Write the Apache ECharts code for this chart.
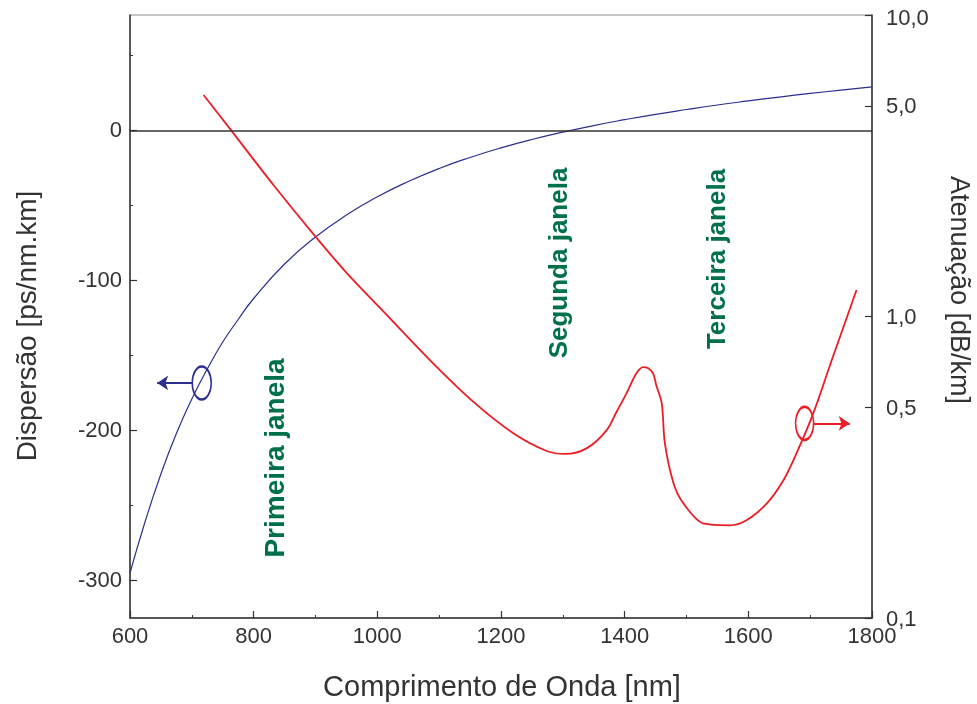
<!DOCTYPE html>
<html>
<head>
<meta charset="utf-8">
<script src="https://cdn.jsdelivr.net/npm/echarts@6/dist/echarts.min.js"></script>
<style>
  html, body { margin: 0; padding: 0; background: #fff; }
  #chart { width: 977px; height: 704px; }
</style>
</head>
<body>
<div id="chart"></div>
<script>
// Chromatic dispersion of standard fibre (ps/nm.km) versus wavelength
const dispWavelengths = [600, 625, 650, 675, 700, 725, 750, 775, 800, 850, 900, 950, 1000, 1050,
  1100, 1150, 1200, 1250, 1300, 1350, 1400, 1450, 1500, 1550, 1600, 1650, 1700, 1750, 1800];
const dispersion = [-295, -260, -229, -202, -179, -159, -141, -126, -112, -89, -71, -56.4, -44.2, -34,
  -25.3, -18, -11.6, -6, -1.1, 3.3, 7.2, 10.8, 14, 17, 19.7, 22.3, 24.7, 26.9, 29.1];

// Attenuation (dB/km, log scale) versus wavelength
const attWavelengths = [719, 763, 832, 899, 951, 1004, 1085, 1155, 1220, 1274, 1304, 1339, 1371,
  1387, 1403, 1419, 1430, 1438, 1446, 1451, 1460, 1465, 1479, 1495, 1527, 1570, 1597, 1630,
  1657, 1678, 1705, 1735, 1775];
const attenuation = [5.43, 4.16, 2.73, 1.85, 1.39, 1.07, 0.717, 0.522, 0.410, 0.358, 0.350, 0.366,
  0.420, 0.483, 0.556, 0.648, 0.679, 0.674, 0.648, 0.593, 0.515, 0.380, 0.280, 0.240, 0.206,
  0.203, 0.211, 0.240, 0.287, 0.352, 0.477, 0.717, 1.224];

// Axis tick values
const dispTicks = [-300, -200, -100, 0];
const dispMinorTicks = [-250, -150, -50, 50];
const attTicks = [0.1, 0.5, 1, 5, 10];

// Markers pointing each curve to its axis: [wavelength, value]
const dispMarker = [716, -168.3];
const dispArrow = [[702, -168.3], [644, -168.3]];
const attMarker = [1691, 0.442];
const attArrow = [[1705, 0.442], [1764, 0.442]];

// Spectral window labels
const windows = ['Primeira janela', 'Segunda janela', 'Terceira janela'];

const FONT = '"Liberation Sans", Arial, sans-serif';
const BLUE = '#2b2f8f';
const RED = '#ee1c24';
const GREEN = '#00704a';
const AXIS = '#333333';

const chart = echarts.init(document.getElementById('chart'));

const zip = (xs, ys) => xs.map((x, i) => [x, ys[i]]);

// decimal comma labels; the top label sits a little below its tick
const attLabel = v => {
  const s = Number(v).toFixed(1).replace('.', ',');
  return v >= 10 ? '{top|' + s + '}' : '{mid|' + s + '}';
};

chart.setOption({
  animation: false,
  textStyle: { fontFamily: FONT },
  grid: {
    left: 130, right: 105, top: 15, bottom: 86,
    show: true, borderColor: '#8c8c8c', borderWidth: 1, backgroundColor: 'transparent'
  },
  xAxis: {
    type: 'value', min: 600, max: 1800, interval: 200,
    axisLine: { onZero: false, lineStyle: { color: AXIS, width: 1.5 } },
    axisTick: { inside: true, length: 7, lineStyle: { color: AXIS, width: 1.2 } },
    minorTick: { show: true, splitNumber: 2, length: 3, lineStyle: { color: AXIS, width: 1 } },
    axisLabel: { fontSize: 22, color: AXIS, margin: 8, fontFamily: FONT, formatter: v => String(v) },
    splitLine: { show: false }
  },
  yAxis: [
    {
      type: 'value', position: 'left', min: -325, max: 77,
      axisLine: { show: true, onZero: false, lineStyle: { color: AXIS, width: 1.5 } },
      axisTick: { show: true, inside: true, length: 7, customValues: dispTicks, lineStyle: { color: AXIS, width: 1.2 } },
      axisLabel: { fontSize: 22, color: AXIS, margin: 8, customValues: dispTicks, fontFamily: FONT, formatter: v => String(v) },
      splitLine: { show: false }
    },
    {
      type: 'log', logBase: 10, position: 'right', min: 0.1, max: 10,
      axisLine: { show: true, onZero: false, lineStyle: { color: AXIS, width: 1.5 } },
      axisTick: { show: true, inside: true, length: 7, customValues: attTicks, lineStyle: { color: AXIS, width: 1.2 } },
      axisLabel: {
        fontSize: 22, color: AXIS, margin: 14, customValues: attTicks, fontFamily: FONT,
        formatter: attLabel,
        rich: {
          top: { fontSize: 22, color: AXIS, fontFamily: FONT, padding: [7, 0, 0, 0] },
          mid: { fontSize: 22, color: AXIS, fontFamily: FONT, padding: [3, 0, 0, 0] }
        }
      },
      splitLine: { show: false }
    },
    {
      // minor ticks of the dispersion axis
      type: 'value', position: 'left', min: -325, max: 77,
      axisLine: { show: false, onZero: false },
      axisTick: { show: true, inside: true, length: 3, customValues: dispMinorTicks, lineStyle: { color: AXIS, width: 1 } },
      axisLabel: { show: false },
      splitLine: { show: false }
    }
  ],
  series: [
    {
      name: 'Dispersão', type: 'line', yAxisIndex: 0, data: zip(dispWavelengths, dispersion),
      smooth: true, showSymbol: false, lineStyle: { color: BLUE, width: 1.2 },
      markLine: {
        silent: true, symbol: 'none', label: { show: false },
        lineStyle: { color: AXIS, width: 1.5, type: 'solid' },
        data: [{ yAxis: 0 }]
      },
      z: 3
    },
    {
      name: 'Atenuação', type: 'line', yAxisIndex: 1, data: zip(attWavelengths, attenuation),
      smooth: 0.3, showSymbol: false, lineStyle: { color: RED, width: 1.8 }, z: 4
    },
    {
      type: 'scatter', yAxisIndex: 0, data: [dispMarker], symbol: 'circle', symbolSize: [19, 33],
      itemStyle: { color: 'rgba(0,0,0,0)', borderColor: BLUE, borderWidth: 2, opacity: 1 }, silent: true, z: 5
    },
    {
      type: 'scatter', yAxisIndex: 1, data: [attMarker], symbol: 'circle', symbolSize: [18, 33],
      itemStyle: { color: 'rgba(0,0,0,0)', borderColor: RED, borderWidth: 2, opacity: 1 }, silent: true, z: 5
    },
    {
      type: 'lines', coordinateSystem: 'cartesian2d', yAxisIndex: 0, silent: true,
      symbol: ['none', 'arrow'], symbolSize: 11,
      lineStyle: { color: BLUE, width: 2, opacity: 1 },
      data: [{ coords: dispArrow }], z: 5
    },
    {
      type: 'lines', coordinateSystem: 'cartesian2d', yAxisIndex: 1, silent: true,
      symbol: ['none', 'arrow'], symbolSize: 11,
      lineStyle: { color: RED, width: 2, opacity: 1 },
      data: [{ coords: attArrow }], z: 5
    }
  ],
  graphic: [
    {
      type: 'text', x: 276, y: 458, rotation: Math.PI / 2,
      style: { text: windows[0], font: 'bold 28px ' + FONT, fill: GREEN, align: 'center', verticalAlign: 'middle' }
    },
    {
      type: 'text', x: 560, y: 263, rotation: Math.PI / 2,
      style: { text: windows[1], font: 'bold 26px ' + FONT, fill: GREEN, align: 'center', verticalAlign: 'middle' }
    },
    {
      type: 'text', x: 718, y: 259, rotation: Math.PI / 2,
      style: { text: windows[2], font: 'bold 26px ' + FONT, fill: GREEN, align: 'center', verticalAlign: 'middle' }
    },
    {
      type: 'text', x: 28, y: 326, rotation: Math.PI / 2,
      style: { text: 'Dispersão [ps/nm.km]', font: '28px ' + FONT, fill: AXIS, align: 'center', verticalAlign: 'middle' }
    },
    {
      type: 'text', x: 958, y: 290, rotation: -Math.PI / 2,
      style: { text: 'Atenuação [dB/km]', font: '27px ' + FONT, fill: AXIS, align: 'center', verticalAlign: 'middle' }
    },
    {
      type: 'text', x: 502, y: 688,
      style: { text: 'Comprimento de Onda [nm]', font: '29px ' + FONT, fill: AXIS, align: 'center', verticalAlign: 'middle' }
    }
  ]
});
</script>
</body>
</html>
